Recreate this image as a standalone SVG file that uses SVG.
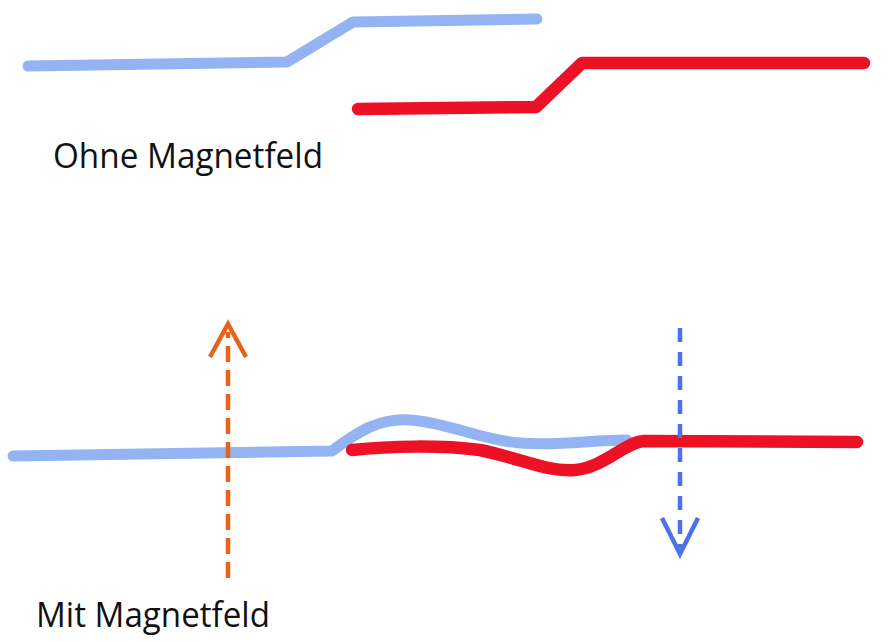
<svg xmlns="http://www.w3.org/2000/svg" width="890" height="642" viewBox="0 0 890 642">
<style>
.wire{fill:none;stroke-linecap:round;stroke-linejoin:round}
.b{stroke:#94B3F2;stroke-width:11}
.r{stroke:#EC1124;stroke-width:12.5}
.lbl{font-family:"Open Sans","Noto Sans",sans-serif;font-size:34px;fill:#111}
.fo{fill:none;stroke:#E8621C;stroke-width:4.5}
.fb{fill:none;stroke:#4B72E6;stroke-width:4.5}
</style>
<rect width="890" height="642" fill="#fff"/>
<g id="top">
<path class="wire b" d="M28 66 L287 62 L353 22 L537 19"/>
<path class="wire r" d="M358 109 L536 107 L582 63 L864 63"/>
<text class="lbl" x="53" y="168" textLength="270" lengthAdjust="spacingAndGlyphs">Ohne Magnetfeld</text>
</g>
<g id="bottom">
<path class="wire b" d="M13 456 L332 451 C360 430 380 418 410 420 C450 423 480 440 520 443 C560 446 590 440 627 440"/>
<path class="wire r" d="M352 450 C390 446 440 445 480 450 C520 458 545 472 575 470 C605 467 625 442 644 441 L857 442"/>
<text class="lbl" x="36" y="627" textLength="234" lengthAdjust="spacingAndGlyphs">Mit Magnetfeld</text>
</g>
<g id="connectors">
<line class="fo" x1="228" y1="578" x2="228" y2="332" stroke-dasharray="16 8"/>
<path class="fo" d="M210 357 L228 324 L246 357" stroke-width="6" stroke-linejoin="miter"/>
<line class="fb" x1="680" y1="328" x2="680" y2="548" stroke-dasharray="14 10"/>
<path class="fb" d="M662 518 L680 554 L698 518" stroke-width="6.5" stroke-linejoin="miter"/>
</g>
</svg>
